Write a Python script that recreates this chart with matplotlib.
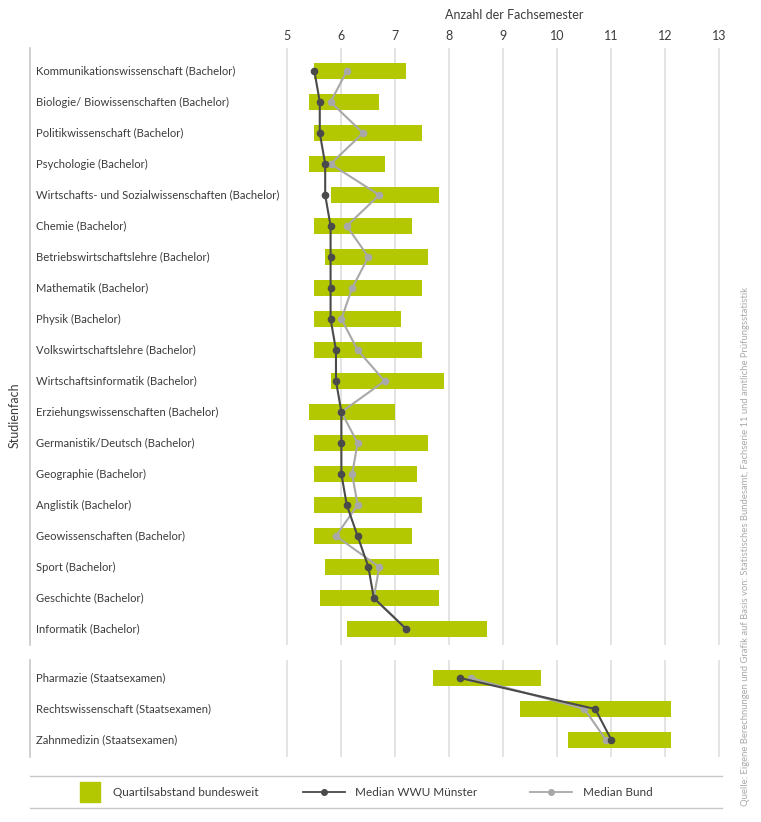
import matplotlib
matplotlib.use("Agg")
import matplotlib.pyplot as plt
from matplotlib.patches import Rectangle
from matplotlib.lines import Line2D

plt.rcParams['font.family'] = ['Lato', 'DejaVu Sans']

# Bachelor-Studiengänge (oberer Block)
bachelor = [
    "Kommunikationswissenschaft (Bachelor)",
    "Biologie/ Biowissenschaften (Bachelor)",
    "Politikwissenschaft (Bachelor)",
    "Psychologie (Bachelor)",
    "Wirtschafts- und Sozialwissenschaften (Bachelor)",
    "Chemie (Bachelor)",
    "Betriebswirtschaftslehre (Bachelor)",
    "Mathematik (Bachelor)",
    "Physik (Bachelor)",
    "Volkswirtschaftslehre (Bachelor)",
    "Wirtschaftsinformatik (Bachelor)",
    "Erziehungswissenschaften (Bachelor)",
    "Germanistik/Deutsch (Bachelor)",
    "Geographie (Bachelor)",
    "Anglistik (Bachelor)",
    "Geowissenschaften (Bachelor)",
    "Sport (Bachelor)",
    "Geschichte (Bachelor)",
    "Informatik (Bachelor)",
]
ba_q1 = [5.5, 5.4, 5.5, 5.4, 5.8, 5.5, 5.7, 5.5, 5.5, 5.5, 5.8, 5.4, 5.5, 5.5, 5.5, 5.5, 5.7, 5.6, 6.1]
ba_q3 = [7.2, 6.7, 7.5, 6.8, 7.8, 7.3, 7.6, 7.5, 7.1, 7.5, 7.9, 7.0, 7.6, 7.4, 7.5, 7.3, 7.8, 7.8, 8.7]
ba_wwu = [5.5, 5.6, 5.6, 5.7, 5.7, 5.8, 5.8, 5.8, 5.8, 5.9, 5.9, 6.0, 6.0, 6.0, 6.1, 6.3, 6.5, 6.6, 7.2]
ba_bund = [6.1, 5.8, 6.4, 5.8, 6.7, 6.1, 6.5, 6.2, 6.0, 6.3, 6.8, 6.0, 6.3, 6.2, 6.3, 5.9, 6.7, 6.6, 7.2]

# Staatsexamen (unterer Block)
staats = [
    "Pharmazie (Staatsexamen)",
    "Rechtswissenschaft (Staatsexamen)",
    "Zahnmedizin (Staatsexamen)",
]
st_q1 = [7.7, 9.3, 10.2]
st_q3 = [9.7, 12.1, 12.1]
st_wwu = [8.2, 10.7, 11.0]
st_bund = [8.4, 10.5, 10.9]

ticks = [5, 6, 7, 8, 9, 10, 11, 12, 13]

GREEN = '#b3c800'
DARK = '#4a4a4a'
LIGHT = '#a8a8a8'
GRID = '#dedede'
TEXT = '#3c3c3c'

W, H = 761, 822
fig = plt.figure(figsize=(W / 100, H / 100), dpi=100)


def fy(px):
    return 1 - px / H


left, right = 30 / W, 740 / W
ax_top = fig.add_axes([left, fy(645), right - left, fy(48) - fy(645)])
ax_bot = fig.add_axes([left, fy(757), right - left, fy(660) - fy(757)])


def draw_block(ax, labels, q1, q3, wwu, bund, ylim):
    pos = list(range(len(labels)))
    widths = [b - a for a, b in zip(q1, q3)]
    ax.barh(pos, widths, left=q1, height=0.54, color=GREEN, zorder=2)
    ax.plot(bund, pos, color=LIGHT, lw=1.5, marker='o', ms=4.5, zorder=3)
    ax.plot(wwu, pos, color=DARK, lw=1.5, marker='o', ms=4.5, zorder=4)
    for p, lab in zip(pos, labels):
        ax.text(0.008, p, lab, transform=ax.get_yaxis_transform(),
                ha='left', va='center', fontsize=8.1, color=TEXT)
    ax.set_xlim(0.235, 13.38)
    ax.set_ylim(*ylim)
    ax.set_xticks(ticks)
    ax.set_yticks([])
    ax.grid(axis='x', color=GRID, lw=1.2, zorder=0)
    for s in ['top', 'right', 'bottom']:
        ax.spines[s].set_visible(False)
    ax.spines['left'].set_color('#c8c8c8')
    ax.spines['left'].set_linewidth(1.2)
    ax.tick_params(axis='x', length=0)


draw_block(ax_top, bachelor, ba_q1, ba_q3, ba_wwu, ba_bund, (18.516, -0.742))
draw_block(ax_bot, staats, st_q1, st_q3, st_wwu, st_bund, (2.548, -0.581))

ax_top.xaxis.tick_top()
ax_top.tick_params(axis='x', labelsize=9, labelcolor=TEXT, pad=4)
ax_bot.tick_params(axis='x', labelbottom=False)

fig.text(514 / W, fy(15), "Anzahl der Fachsemester", ha='center', va='center',
         fontsize=9, color=TEXT)
fig.text(15 / W, fy(415), "Studienfach", rotation=90, ha='center', va='center',
         fontsize=9, color=TEXT)
fig.text(745 / W, fy(806), "Quelle: Eigene Berechnungen und Grafik auf Basis von: Statistisches Bundesamt, "
         "Fachserie 11 und amtliche Prüfungsstatistik", rotation=90, ha='center', va='bottom',
         fontsize=6.8, color='#aaaaaa')

# Legende
lg = fig.add_axes([0, 0, 1, 1], zorder=-1)
lg.set_xlim(0, W)
lg.set_ylim(H, 0)
lg.axis('off')
lg.add_line(Line2D([30, 722], [776, 776], color='#c8c8c8', lw=1))
lg.add_line(Line2D([30, 722], [808, 808], color='#c8c8c8', lw=1))
lg.add_patch(Rectangle((80, 782), 20, 20, color=GREEN))
lg.text(113, 792, "Quartilsabstand bundesweit", va='center', fontsize=8.5, color=TEXT)
lg.add_line(Line2D([303, 345], [792, 792], color=DARK, lw=1.3))
lg.plot([324], [792], 'o', color=DARK, ms=4)
lg.text(355, 792, "Median WWU Münster", va='center', fontsize=8.5, color=TEXT)
lg.add_line(Line2D([530, 572], [792, 792], color=LIGHT, lw=1.3))
lg.plot([551], [792], 'o', color=LIGHT, ms=4)
lg.text(583, 792, "Median Bund", va='center', fontsize=8.5, color=TEXT)

fig.savefig("out.png", dpi=100)
